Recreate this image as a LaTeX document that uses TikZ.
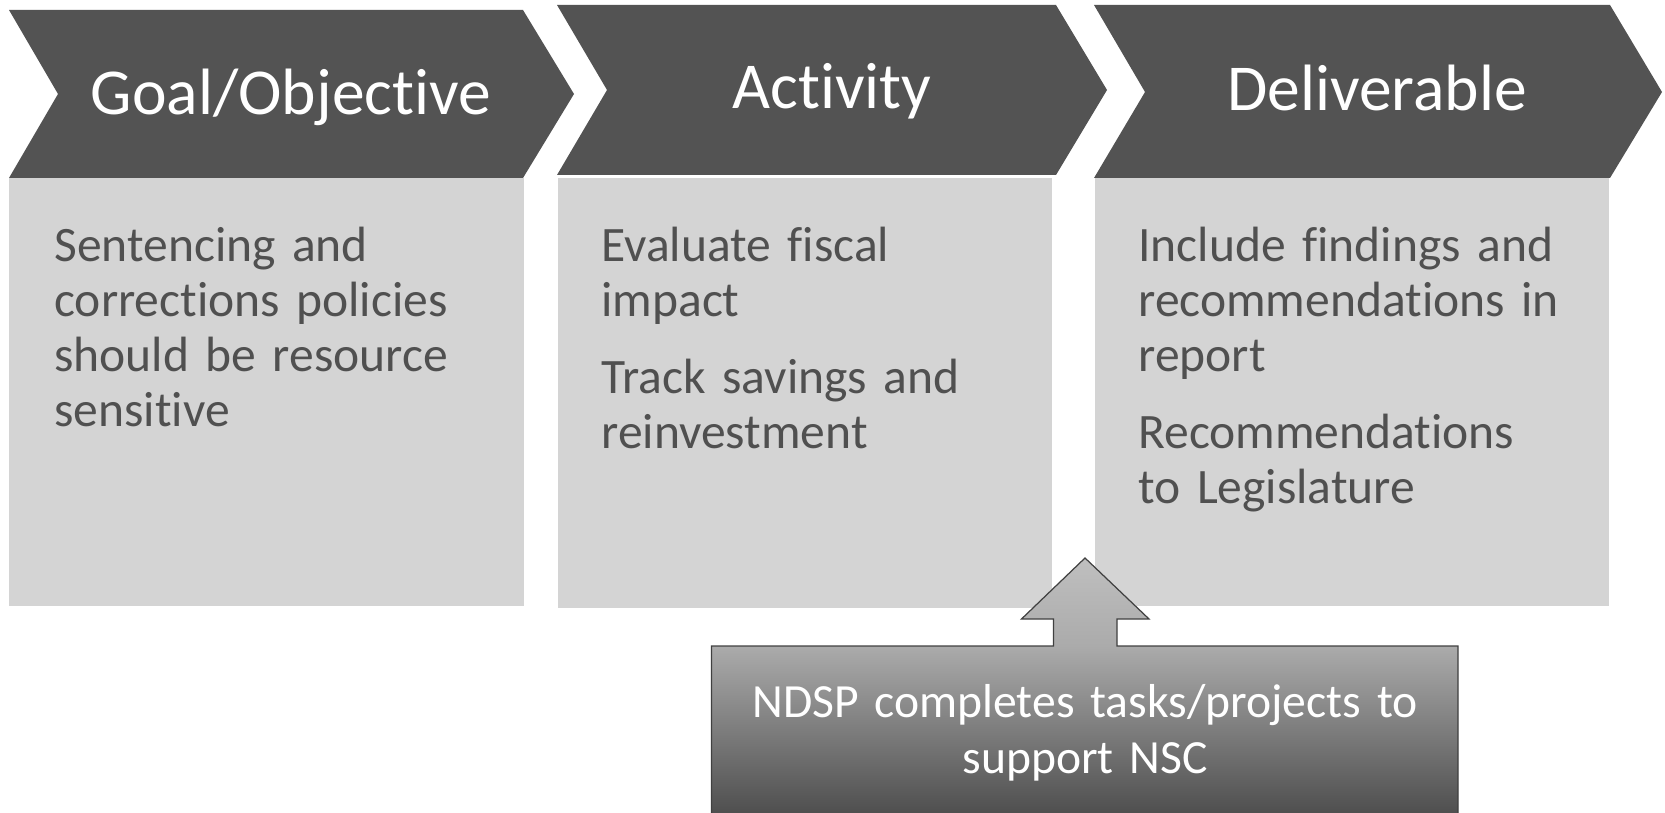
\documentclass[tikz,border=0pt]{standalone}
\usepackage{fontspec}
\setmainfont{Carlito}[Ligatures={NoCommon,NoContextual}]
\definecolor{chev}{HTML}{535353}
\definecolor{pane}{HTML}{D4D4D4}
\definecolor{ink}{HTML}{505050}
\definecolor{rim}{HTML}{404040}
\pgfdeclareverticalshading{callshade}{100bp}{%
  color(0bp)=(black!71); color(26.3bp)=(black!69); color(58.2bp)=(black!33);
  color(75bp)=(black!25); color(100bp)=(black!25)}
\begin{document}
\begin{tikzpicture}[x=0.02cm,y=-0.02cm,
    head/.style={fill=chev},
    panel/.style={fill=pane},
    htext/.style={text=white,inner sep=0,anchor=base,font=\fontsize{37.3}{42}\selectfont},
    btext/.style={text=ink,inner sep=0,anchor=base west,text width=9.5cm,align=left,
      font=\fontsize{28.2}{31.3}\selectfont}]
    \clip (0,0) rectangle (1665,813);
    \fill[panel] (9,178) rectangle (524,606);        % goal
    \fill[panel] (558,178) rectangle (1052,608);     % activity
    \fill[panel] (1095,178) rectangle (1609,606);    % deliverable
    \fill[head] (9,10) -- (523,10) -- (574,94) -- (523,178) -- (9,178) -- (58,94) -- cycle;
    \fill[head] (557,5) -- (1056,5) -- (1107,90) -- (1056,175) -- (557,175) -- (607,90) -- cycle;
    \fill[head] (1094,5) -- (1610,5) -- (1662,92) -- (1610,178) -- (1094,178) -- (1145,92) -- cycle;
    \node[htext] (goalhead) at (291,115) {Goal/Objective};
    \node[htext] (acthead) at (832,109) {Activity};
    \node[htext] (delhead) at (1377,111) {Deliverable};
    \node[btext] (goaltext) at (54,262) {Sentencing and\\corrections policies\\should be resource\\sensitive};
    \node[btext] (acttext) at (601,262) {Evaluate fiscal\\impact\\[12.5pt]Track savings and\\reinvestment};
    \node[btext] (deltext) at (1138,262) {Include findings and\\recommendations in\\report\\[12.5pt]Recommendations\\to Legislature};
    % support arrow
    \shade[shading=callshade,draw=rim,line width=0.7pt] (711.5,646) -- (1053.5,646) -- (1053.5,619)
      -- (1021.5,619) -- (1085,558) -- (1149,619) -- (1117,619) -- (1117,646) -- (1458,646)
      -- (1458,820) -- (711.5,820) -- cycle;
    \node[text=white,inner sep=0,anchor=base,text width=14cm,align=center,
      font=\fontsize{27.1}{31.9}\selectfont] (ndsp) at (1085,717) {NDSP completes tasks/projects to\\support NSC};
\end{tikzpicture}
\end{document}
